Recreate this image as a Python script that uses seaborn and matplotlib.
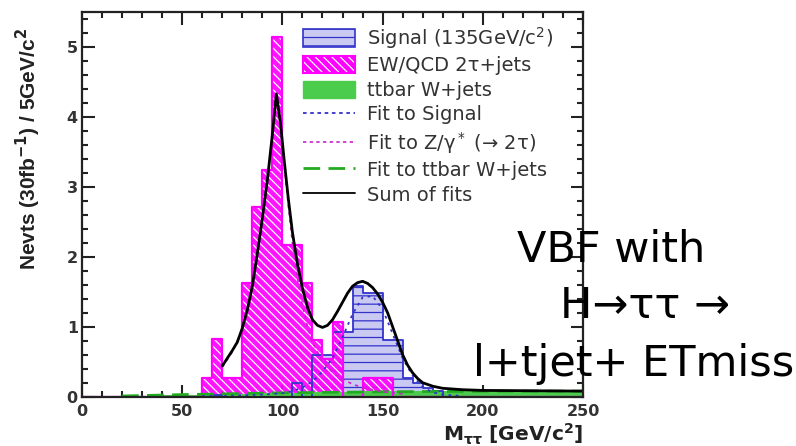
import numpy as np
import pandas as pd
import matplotlib
matplotlib.use("Agg")
import matplotlib.pyplot as plt
import seaborn as sns
from matplotlib.patches import Patch
from matplotlib.lines import Line2D
from matplotlib.ticker import MultipleLocator

# ---- histogram contents (5 GeV bins from 0 to 250 GeV) ----
bin_width = 5
edges = list(range(0, 250 + bin_width, bin_width))
centers = [e + bin_width / 2 for e in edges[:-1]]

# EW/QCD Z/gamma* -> 2 tau + jets
z_counts = [0, 0, 0, 0, 0, 0, 0, 0, 0, 0, 0, 0,
            0.27, 0.82, 0.27, 0.27, 1.62, 2.71, 3.24, 5.14, 2.17, 2.17,
            1.62, 0.81, 0.54, 1.07, 0, 0, 0.27, 0.27, 0.27,
            0, 0, 0, 0, 0, 0, 0, 0, 0, 0, 0, 0, 0, 0, 0, 0, 0, 0, 0]

# Higgs signal, m_H = 135 GeV
sig_counts = [0, 0, 0, 0, 0, 0, 0, 0, 0, 0, 0, 0, 0,
              0.03,
              0, 0, 0, 0, 0, 0, 0,
              0.19, 0,
              0.59, 0.59, 0.93, 0.93, 1.58, 1.48, 1.48, 0.81, 0.81,
              0.27, 0.20, 0.12, 0.08,
              0, 0, 0, 0, 0, 0, 0, 0, 0, 0, 0, 0, 0, 0]

# ttbar + W+jets
tt_counts = [0, 0, 0, 0.005, 0.01, 0.01, 0.015, 0.015, 0.02, 0.025,
             0.025, 0.03, 0.03, 0.035, 0.04, 0.04, 0.045, 0.045, 0.05, 0.05,
             0.055, 0.06, 0.06, 0.065, 0.065, 0.07, 0.07, 0.07, 0.075, 0.075,
             0.075, 0.08, 0.075, 0.08, 0.08, 0.075, 0.08, 0.08, 0.08, 0.075,
             0.08, 0.08, 0.08, 0.08, 0.075, 0.08, 0.08, 0.08, 0.08, 0.08]

# ---- fitted curves ----
sum_x = [70, 72.5, 75, 77.5, 80, 82.5, 85, 87.5, 90, 92.5, 95, 97, 99, 101,
         103, 105, 107.5, 110, 112.5, 115, 117.5, 120, 122.5, 125, 127.5,
         130, 132.5, 135, 137.5, 140, 142.5, 145, 147.5, 150, 152.5, 155,
         157.5, 160, 162.5, 165, 167.5, 170, 175, 180, 190, 200, 225, 250]
sum_y = [0.44, 0.55, 0.66, 0.78, 0.98, 1.24, 1.58, 2.05, 2.55, 3.10, 3.75,
         4.33, 3.92, 3.35, 2.82, 2.35, 1.90, 1.55, 1.28, 1.10, 1.02, 0.99,
         1.02, 1.10, 1.22, 1.35, 1.48, 1.58, 1.63, 1.65, 1.62, 1.56, 1.47,
         1.35, 1.20, 1.00, 0.80, 0.60, 0.45, 0.34, 0.26, 0.20, 0.15, 0.12,
         0.10, 0.09, 0.085, 0.08]

zfit_x = [70, 75, 80, 85, 90, 92.5, 95, 97, 99, 101, 103, 105, 107.5, 110,
          112.5, 115, 120, 125, 130, 135, 140, 150, 160]
zfit_y = [0.42, 0.64, 0.96, 1.56, 2.53, 3.08, 3.73, 4.31, 3.88, 3.28, 2.72,
          2.20, 1.70, 1.30, 1.00, 0.78, 0.50, 0.35, 0.25, 0.18, 0.13, 0.07,
          0.04]

sigfit_x = [60, 70, 80, 90, 100, 105, 110, 115, 120, 125, 130, 135, 140, 145,
            150, 155, 160, 165, 170, 175, 180, 190]
sigfit_y = [0.01, 0.01, 0.02, 0.03, 0.05, 0.08, 0.13, 0.22, 0.36, 0.55, 0.85,
            1.18, 1.42, 1.44, 1.25, 0.90, 0.55, 0.30, 0.14, 0.06, 0.03, 0.01]

ttfit_x = [20, 50, 100, 150, 200, 250]
ttfit_y = [0.01, 0.03, 0.055, 0.07, 0.078, 0.08]

legend_labels = ["Signal (135GeV/c$^2$)", "EW/QCD 2\u03c4+jets", "ttbar W+jets",
                 "Fit to Signal", "Fit to Z/\u03b3$^*$ (\u2192 2\u03c4)",
                 "Fit to ttbar W+jets", "Sum of fits"]

hists = pd.DataFrame({"mass": centers, "signal": sig_counts,
                      "zjets": z_counts, "ttbar": tt_counts})

# ---- style ----
sns.set_style("ticks")
plt.rcParams["font.family"] = ["DejaVu Sans"]
plt.rcParams["hatch.linewidth"] = 0.9
plt.rcParams["mathtext.fontset"] = "dejavusans"

MAGENTA = "#ff00ff"
BLUE = "#3333cc"
LAVENDER = "#c9c9f2"
GREEN = "#4ccc4c"
AXCOL = "#222222"

fig = plt.figure(figsize=(7.96, 4.46), dpi=100)
ax = fig.add_axes([82 / 796, 1 - 396.7 / 446, 501 / 796, 384.7 / 446])


def hist(column, **kws):
    sns.histplot(data=hists, x="mass", weights=column, bins=edges,
                 element="step", ax=ax, legend=False, **kws)


# signal: lavender fill with horizontal blue hatching
hist("signal", fill=True, facecolor=LAVENDER, edgecolor=BLUE,
     hatch="--", linewidth=0)
hist("signal", fill=False, color=BLUE, linewidth=1.3)

# Z background: magenta with fine white diagonal hatching
hist("zjets", fill=True, facecolor=(1, 0, 1, 0.92), edgecolor="white",
     hatch="\\\\\\\\", linewidth=0)
hist("zjets", fill=False, color=MAGENTA, linewidth=1.6)

# ttbar / W+jets band along the bottom
hist("ttbar", fill=True, facecolor=GREEN, edgecolor=GREEN, linewidth=0.8)

# fits
sns.lineplot(x=ttfit_x, y=ttfit_y, ax=ax, color="#22aa22", lw=2,
             dashes=(6, 3), estimator=None, sort=False)
sns.lineplot(x=sigfit_x, y=sigfit_y, ax=ax, color=BLUE, lw=1.3,
             linestyle=(0, (1.5, 2.5)), estimator=None, sort=False)
sns.lineplot(x=zfit_x, y=zfit_y, ax=ax, color="#cc22cc", lw=1.2,
             linestyle=(0, (2, 2.5)), estimator=None, sort=False)
sns.lineplot(x=sum_x, y=sum_y, ax=ax, color="black", lw=2,
             estimator=None, sort=False)

# ---- axes ----
ax.set_xlim(0, 250)
ax.set_ylim(0, 5.5)
ax.xaxis.set_major_locator(MultipleLocator(50))
ax.xaxis.set_minor_locator(MultipleLocator(10))
ax.yaxis.set_major_locator(MultipleLocator(1))
ax.yaxis.set_minor_locator(MultipleLocator(0.2))
ax.tick_params(which="both", direction="in", top=True, right=True,
               colors=AXCOL, width=1.5)
ax.tick_params(which="major", length=9)
ax.tick_params(which="minor", length=4.5)
ax.tick_params(axis="y", which="major", pad=3)
ax.tick_params(axis="x", which="major", pad=5)
for lab in ax.get_xticklabels() + ax.get_yticklabels():
    lab.set_fontsize(11.5)
    lab.set_fontweight("bold")
    lab.set_color("#333333")
for sp in ax.spines.values():
    sp.set_color(AXCOL)
    sp.set_linewidth(1.6)

ax.set_ylabel("Nevts (30fb$^{\\mathbf{-1}}$) / 5GeV/c$^{\\mathbf{2}}$",
              fontsize=15, fontweight="bold", color="#222222",
              ha="right", family=["Liberation Sans", "DejaVu Sans"])
ax.yaxis.set_label_coords(-0.078, 0.958)
ax.set_xlabel("M$_{\\mathbf{\\tau\\tau}}$ [GeV/c$^{\\mathbf{2}}$]",
              fontsize=14.5, fontweight="bold", color="#222222", ha="right",
              va="baseline")
ax.xaxis.set_label_coords(1.0, -0.117)

# ---- legend ----
handles = [
    Patch(facecolor=LAVENDER, edgecolor=BLUE, hatch="--", linewidth=1.2),
    (Patch(facecolor=MAGENTA, edgecolor="white", hatch="\\\\\\\\", linewidth=0),
     Patch(facecolor="none", edgecolor=MAGENTA, linewidth=1.5)),
    Patch(facecolor=GREEN, edgecolor=GREEN),
    Line2D([], [], color=BLUE, lw=1.3, linestyle=(0, (2, 2))),
    Line2D([], [], color="#cc22cc", lw=1.2, linestyle=(0, (2, 2))),
    Line2D([], [], color="#22aa22", lw=2, dashes=(6, 3)),
    Line2D([], [], color="black", lw=1.3),
]
ax.legend(handles, legend_labels, loc="upper left",
          bbox_to_anchor=(303 / 796, 1 - 25 / 446),
          bbox_transform=fig.transFigure, frameon=False, fontsize=14,
          handlelength=2.68, handleheight=0.98, handletextpad=0.6,
          labelspacing=0.27, borderpad=0, borderaxespad=0,
          labelcolor="#333333")

# ---- annotation ----
note_kw = dict(fontsize=31, family="DejaVu Sans", color="black",
               va="baseline", ha="left")
fig.text(517 / 796, 1 - 262 / 446, "VBF with", **note_kw)
fig.text(560 / 796, 1 - 318 / 446, "H\u2192\u03c4\u03c4 \u2192", **note_kw)
fig.text(473 / 796, 1 - 376 / 446, "l+tjet+ ETmiss", **note_kw)

fig.savefig("out.png", dpi=100)
